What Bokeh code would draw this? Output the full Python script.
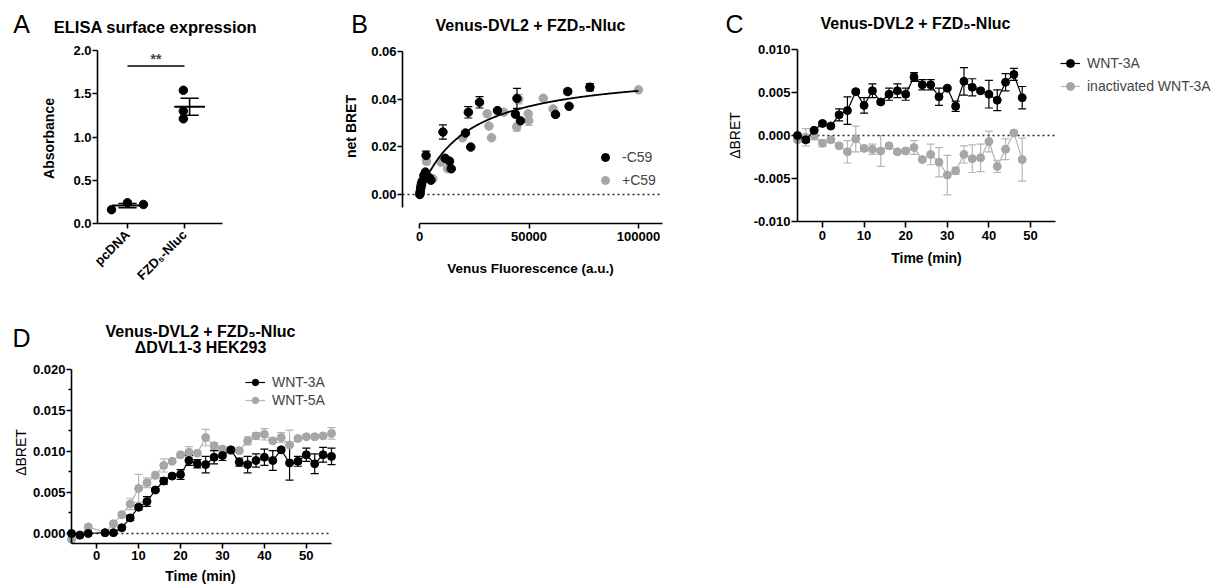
import numpy as np
from bokeh.plotting import figure
from bokeh.models import (ColumnDataSource, Label, Legend, LegendItem, Whisker,
                          TeeHead, FixedTicker, Range1d, PrintfTickFormatter)
from bokeh.layouts import row, column
from bokeh.embed import file_html
from bokeh.resources import INLINE

FONT = "Liberation Sans"
GREY = "#a6a6a6"
GREY_LT = "#b6b6b6"

# ---------------- data ----------------
# Panel A: ELISA surface expression
a_groups = ["pcDNA", "FZD₅-Nluc"]
a_pcdna = [0.16, 0.24, 0.22]
a_fzd5 = [1.54, 1.30, 1.21]

# Panel B: saturation BRET
b_neg_x = [150, 300, 500, 700, 900, 1200, 2000, 3000, 2700, 4500, 5200, 10700, 11700, 13700,
           14500, 21000, 22300, 23400, 27400, 35600, 43800, 44500, 46100, 62100, 67700, 68300, 77800]
b_neg_y = [0.0000, 0.0010, 0.0024, 0.0035, 0.0045, 0.0055, 0.0080, 0.0164, 0.0094, 0.0070, 0.0060,
           0.0262, 0.0152, 0.0140, 0.0108, 0.0258, 0.0345, 0.0199, 0.0387, 0.0352, 0.0337, 0.0403,
           0.0309, 0.0336, 0.0432, 0.0370, 0.0450]
b_neg_err = [0, 0, 0, 0, 0, 0, 0, 0.0018, 0, 0, 0, 0.0030, 0, 0, 0, 0, 0.0024, 0, 0.0024, 0, 0,
             0.0042, 0, 0, 0.0010, 0, 0.0015]
b_pos_x = [200, 400, 700, 1000, 1500, 3200, 6100, 9800, 12800, 19700, 30900, 31700, 32900, 38500,
           44400, 45300, 49600, 49900, 56500, 61000, 100000]
b_pos_y = [0.0005, 0.0015, 0.0030, 0.0042, 0.0060, 0.0140, 0.0066, 0.0136, 0.0108, 0.0238, 0.0339,
           0.0287, 0.0238, 0.0345, 0.0283, 0.0400, 0.0339, 0.0310, 0.0404, 0.0359, 0.0439]
b_pos_err = [0, 0, 0, 0, 0, 0.0015, 0, 0, 0, 0, 0, 0, 0, 0, 0.0017, 0.0020, 0, 0.0020, 0, 0, 0]
b_fit_bmax = 0.0528   # one-site fit parameters
b_fit_kd = 21400

# Panel C: kinetics, WT
c_time = [-6, -4, -2, 0, 2, 4, 6, 8, 10, 12, 14, 16, 18, 20, 22, 24, 26, 28, 30, 32, 34, 36, 38,
          40, 42, 44, 46, 48]
c_wnt3a = [0.0000, -0.0005, 0.0006, 0.0014, 0.0011, 0.0024, 0.0029, 0.0051, 0.0035, 0.0052,
           0.0039, 0.0048, 0.0052, 0.0048, 0.0068, 0.0059, 0.0059, 0.0045, 0.0055, 0.0034,
           0.0063, 0.0056, 0.0052, 0.0048, 0.0041, 0.0062, 0.0071, 0.0044]
c_wnt3a_sem = [0, 0.0003, 0.0002, 0.0002, 0.0002, 0.0007, 0.0016, 0.0002, 0.0009, 0.0008, 0.0002,
               0.0007, 0.0008, 0.0007, 0.0005, 0.0006, 0.0006, 0.0010, 0.0002, 0.0006, 0.0016,
               0.0010, 0.0002, 0.0016, 0.0012, 0.0010, 0.0007, 0.0013]
c_inact = [-0.0005, -0.0002, 0.0000, -0.0009, -0.0005, -0.0012, -0.0019, -0.0004, -0.0015, -0.0016,
           -0.0018, -0.0012, -0.0019, -0.0018, -0.0014, -0.0028, -0.0022, -0.0031, -0.0046,
           -0.0041, -0.0022, -0.0027, -0.0026, -0.0007, -0.0036, -0.0016, 0.0003, -0.0028]
c_inact_sem = [0.0002, 0.0010, 0.0005, 0.0004, 0.0003, 0.0002, 0.0013, 0.0015, 0.0003, 0.0006,
               0.0018, 0.0002, 0.0002, 0.0002, 0.0008, 0.0002, 0.0012, 0.0017, 0.0023, 0.0004,
               0.0010, 0.0016, 0.0016, 0.0012, 0.0007, 0.0012, 0.0002, 0.0025]

# Panel D: kinetics, ΔDVL1-3 HEK293
d_time = [-6, -4, -2, 2, 4, 6, 8, 10, 12, 14, 16, 18, 20, 22, 24, 26, 28, 30, 32, 34, 36, 38, 40,
          42, 44, 46, 48, 50, 52, 54, 56]
d_wnt3a = [0.0000, -0.0002, 0.0000, 0.0001, 0.0001, 0.0007, 0.0019, 0.0032, 0.0039, 0.0053,
           0.0064, 0.0070, 0.0072, 0.0089, 0.0085, 0.0084, 0.0093, 0.0095, 0.0102, 0.0087,
           0.0084, 0.0089, 0.0093, 0.0089, 0.0102, 0.0086, 0.0088, 0.0096, 0.0085, 0.0096, 0.0094]
d_wnt3a_sem = [0, 0, 0, 0, 0, 0.0002, 0.0003, 0.0003, 0.0006, 0.0002, 0.0004, 0.0002, 0.0006,
               0.0006, 0.0005, 0.0010, 0.0008, 0.0006, 0.0002, 0.0005, 0.0010, 0.0008, 0.0010,
               0.0012, 0.0002, 0.0021, 0.0006, 0.0008, 0.0012, 0.0009, 0.0010]
d_wnt5a = [-0.0007, -0.0002, 0.0008, 0.0001, 0.0012, 0.0023, 0.0036, 0.0055, 0.0062, 0.0071,
           0.0083, 0.0088, 0.0096, 0.0099, 0.0098, 0.0117, 0.0107, 0.0103, 0.0101, 0.0101,
           0.0113, 0.0119, 0.0121, 0.0113, 0.0117, 0.0108, 0.0116, 0.0118, 0.0118, 0.0119, 0.0122]
d_wnt5a_sem = [0, 0, 0, 0, 0, 0, 0.0007, 0.0017, 0.0006, 0.0004, 0.0008, 0.0002, 0.0002, 0.0007,
               0.0002, 0.0010, 0.0004, 0.0003, 0, 0.0002, 0.0005, 0.0004, 0.0007, 0.0002, 0.0006,
               0.0018, 0.0002, 0.0002, 0.0002, 0.0002, 0.0007]


# ---------------- helpers ----------------
class Panel:
    """A figure whose frame fills the whole canvas; 'box' is the plotting area (page px)
    that corresponds to data ranges xr/yr. Axes are drawn at fixed locations on the box."""

    def __init__(self, origin, size, box, xr, yr):
        self.ox, self.oy = origin
        self.w, self.h = size
        self.L, self.T, self.R, self.B = box
        self.xr, self.yr = xr, yr
        sx = (xr[1] - xr[0]) / (self.R - self.L)
        sy = (yr[1] - yr[0]) / (self.B - self.T)
        fx0 = xr[0] - (self.L - self.ox) * sx
        fx1 = xr[1] + (self.ox + self.w - self.R) * sx
        fy0 = yr[0] - (self.oy + self.h - self.B) * sy
        fy1 = yr[1] + (self.T - self.oy) * sy
        p = figure(width=self.w, height=self.h,
                   x_range=Range1d(fx0, fx1), y_range=Range1d(fy0, fy1),
                   output_backend="svg", toolbar_location=None,
                   min_border_left=0, min_border_right=0,
                   min_border_top=0, min_border_bottom=0)
        p.xgrid.visible = False
        p.ygrid.visible = False
        p.outline_line_color = None
        p.background_fill_color = "white"
        p.border_fill_color = "white"
        p.xaxis[0].fixed_location = yr[0]
        p.yaxis[0].fixed_location = xr[0]
        self.p = p

    def x(self, px):
        return self.xr[0] + (px - self.L) / (self.R - self.L) * (self.xr[1] - self.xr[0])

    def y(self, py):
        return self.yr[1] - (py - self.T) / (self.B - self.T) * (self.yr[1] - self.yr[0])

    def legend_loc(self, left, bottom):
        return (left - self.ox, self.oy + self.h - bottom)

    def text(self, px, py, s, size, bold=False, align="center", angle=0.0):
        self.p.add_layout(Label(x=self.x(px), y=self.y(py), text=s, text_font=FONT,
                                text_font_size=f"{size}px",
                                text_font_style="bold" if bold else "normal",
                                text_align=align, text_baseline="middle", angle=angle,
                                text_color="black"))

    def zero_line(self):
        self.p.segment(x0=[self.xr[0]], x1=[self.xr[1]], y0=[0], y1=[0], line_color="#222222",
                       line_width=1.5, line_dash="2 3")


def style_axis(ax, ticks, fmt, bounds, tick_out=5, label_standoff=1, minor=None):
    ax.ticker = FixedTicker(ticks=ticks, minor_ticks=minor or [])
    ax.formatter = PrintfTickFormatter(format=fmt)
    ax.bounds = bounds
    ax.axis_line_width = 1.6
    ax.axis_line_color = "black"
    ax.major_tick_line_width = 1.6
    ax.major_tick_line_color = "black"
    ax.major_tick_out = tick_out
    ax.major_tick_in = 0
    if minor:
        ax.minor_tick_line_color = "black"
        ax.minor_tick_line_width = 1.4
        ax.minor_tick_out = 3
        ax.minor_tick_in = 0
    else:
        ax.minor_tick_line_color = None
    ax.major_label_text_font = FONT
    ax.major_label_text_font_size = "13px"
    ax.major_label_text_font_style = "bold"
    ax.major_label_text_color = "black"
    ax.major_label_standoff = label_standoff


def errbars(p, xs, ys, es, color, cap=8, width=1.2):
    keep = [(x, y, e) for x, y, e in zip(xs, ys, es) if e > 0]
    src = ColumnDataSource(dict(x=[k[0] for k in keep],
                                lo=[k[1] - k[2] for k in keep],
                                hi=[k[1] + k[2] for k in keep]))
    w = Whisker(source=src, base="x", lower="lo", upper="hi", dimension="height",
                line_color=color, line_width=width,
                upper_head=TeeHead(size=cap, line_color=color, line_width=width),
                lower_head=TeeHead(size=cap, line_color=color, line_width=width))
    p.add_layout(w)


def make_legend(items, loc, gh, spacing):
    return Legend(items=items, location=loc, padding=2, margin=0, spacing=spacing,
                  glyph_width=20, glyph_height=gh, label_height=gh, label_standoff=7,
                  label_text_font=FONT, label_text_font_size="14px",
                  border_line_color=None, background_fill_alpha=0)


# ---------------- Panel A ----------------
A = Panel((0, 0), (335, 308), (97, 50, 222, 223), (0.474, 2.667), (0.0, 2.0))
pA = A.p
style_axis(pA.yaxis[0], [0, 0.5, 1.0, 1.5, 2.0], "%.1f", (0.0, 2.0))
style_axis(pA.xaxis[0], [1, 2], "%d", (0.474, 2.667), label_standoff=4)
pA.xaxis[0].major_label_overrides = {1: a_groups[0], 2: a_groups[1]}
pA.xaxis[0].major_label_orientation = np.pi / 4

jit = [[-0.28, 0.0, 0.28], [-0.02, -0.02, -0.02]]
mean_off = [0.0, 0.09]
for gi, vals in enumerate([a_pcdna, a_fzd5]):
    xc = gi + 1
    m = float(np.mean(vals))
    sem = float(np.std(vals, ddof=1) / np.sqrt(len(vals)))
    xm = xc + mean_off[gi]
    pA.segment(x0=[xm - 0.16, xm - 0.16, xm], x1=[xm + 0.16, xm + 0.16, xm],
               y0=[m - sem, m + sem, m - sem], y1=[m - sem, m + sem, m + sem],
               line_color="black", line_width=1.6)
    pA.segment(x0=[xm - 0.27], x1=[xm + 0.27], y0=[m], y1=[m], line_color="black", line_width=2)
    pA.scatter([xc + j for j in jit[gi]], vals, size=8.5, color="black", marker="circle")
pA.segment(x0=[1], x1=[2], y0=[1.82], y1=[1.82], line_color="black", line_width=1.6)
pA.add_layout(Label(x=1.5, y=1.90, text="**", text_font=FONT, text_font_size="14px",
                    text_font_style="bold", text_align="center", text_baseline="middle"))
A.text(21, 23, "A", 25)
A.text(155, 26, "ELISA surface expression", 16.5, bold=True)
A.text(48, 138, "Absorbance", 14, bold=True, angle=np.pi / 2)

# ---------------- Panel B ----------------
B = Panel((335, 0), (355, 308), (402, 51, 662, 223), (-7763, 110959), (-0.01217, 0.06))
pB = B.p
style_axis(pB.yaxis[0], [0, 0.02, 0.04, 0.06], "%.2f", (-0.0055, 0.06))
style_axis(pB.xaxis[0], [0, 50000, 100000], "%d", (0, 110959), label_standoff=3)
B.zero_line()
errbars(pB, b_pos_x, b_pos_y, b_pos_err, GREY_LT)
rB2 = pB.scatter(b_pos_x, b_pos_y, size=8.5, color=GREY, marker="circle")
fit_x = np.linspace(0, max(b_pos_x), 300)
pB.line(fit_x, b_fit_bmax * fit_x / (b_fit_kd + fit_x), line_color="black", line_width=1.8)
errbars(pB, b_neg_x, b_neg_y, b_neg_err, "black")
rB1 = pB.scatter(b_neg_x, b_neg_y, size=8.5, color="black", marker="circle")
pB.add_layout(make_legend([LegendItem(label="-C59", renderers=[rB1]),
                           LegendItem(label="+C59", renderers=[rB2])],
                          B.legend_loc(595, 190), 20, 3))
B.text(359, 23, "B", 25)
B.text(530, 25, "Venus-DVL2 + FZD₅-Nluc", 16, bold=True)
B.text(350, 126, "net BRET", 14, bold=True, angle=np.pi / 2)
B.text(530, 268, "Venus Fluorescence (a.u.)", 13.5, bold=True)

# ---------------- Panel C ----------------
C = Panel((690, 0), (533, 308), (797, 49, 1055, 221), (-6, 56), (-0.010, 0.010))
pC = C.p
style_axis(pC.yaxis[0], [-0.01, -0.005, 0, 0.005, 0.01], "%.3f", (-0.010, 0.010), tick_out=6)
style_axis(pC.xaxis[0], [0, 10, 20, 30, 40, 50], "%d", (-6, 56), tick_out=6, label_standoff=3)
C.zero_line()
errbars(pC, c_time, c_inact, c_inact_sem, GREY_LT)
lC2 = pC.line(c_time, c_inact, line_color=GREY_LT, line_width=1.2)
sC2 = pC.scatter(c_time, c_inact, size=8, color=GREY, marker="circle")
errbars(pC, c_time, c_wnt3a, c_wnt3a_sem, "black")
lC1 = pC.line(c_time, c_wnt3a, line_color="black", line_width=1.2)
sC1 = pC.scatter(c_time, c_wnt3a, size=8, color="black", marker="circle")
pC.add_layout(make_legend([LegendItem(label="WNT-3A", renderers=[lC1, sC1]),
                           LegendItem(label="inactivated WNT-3A", renderers=[lC2, sC2])],
                          C.legend_loc(1060, 96), 20, 3))
C.text(734, 23, "C", 25)
C.text(915, 23, "Venus-DVL2 + FZD₅-Nluc", 16, bold=True)
C.text(734, 135, "ΔBRET", 14, angle=np.pi / 2)
C.text(926, 257, "Time (min)", 14, bold=True)

# ---------------- Panel D ----------------
D = Panel((0, 308), (360, 277), (71, 369, 331, 543), (-6, 56), (-0.00122, 0.020))
pD = D.p
style_axis(pD.yaxis[0], [0, 0.005, 0.010, 0.015, 0.020], "%.3f", (-0.00122, 0.020),
           minor=[0.0025, 0.0075, 0.0125, 0.0175])
style_axis(pD.xaxis[0], [0, 10, 20, 30, 40, 50], "%d", (-6, 56), label_standoff=2)
D.zero_line()
errbars(pD, d_time, d_wnt5a, d_wnt5a_sem, GREY_LT)
lD2 = pD.line(d_time, d_wnt5a, line_color=GREY_LT, line_width=1.2)
sD2 = pD.scatter(d_time, d_wnt5a, size=8, color=GREY, marker="circle")
errbars(pD, d_time, d_wnt3a, d_wnt3a_sem, "black")
lD1 = pD.line(d_time, d_wnt3a, line_color="black", line_width=1.2)
sD1 = pD.scatter(d_time, d_wnt3a, size=8, color="black", marker="circle")
pD.add_layout(make_legend([LegendItem(label="WNT-3A", renderers=[lD1, sD1]),
                           LegendItem(label="WNT-5A", renderers=[lD2, sD2])],
                          D.legend_loc(245, 408), 16, 2))
D.text(21, 337, "D", 25)
D.text(200, 331, "Venus-DVL2 + FZD₅-Nluc", 16, bold=True)
D.text(200, 347, "ΔDVL1-3 HEK293", 16, bold=True)
D.text(20, 452, "ΔBRET", 14, angle=np.pi / 2)
D.text(200, 575, "Time (min)", 14, bold=True)

layout = column(row(pA, pB, pC, spacing=0), row(pD, spacing=0), spacing=0)
open("out.html", "w").write(file_html(layout, INLINE))
